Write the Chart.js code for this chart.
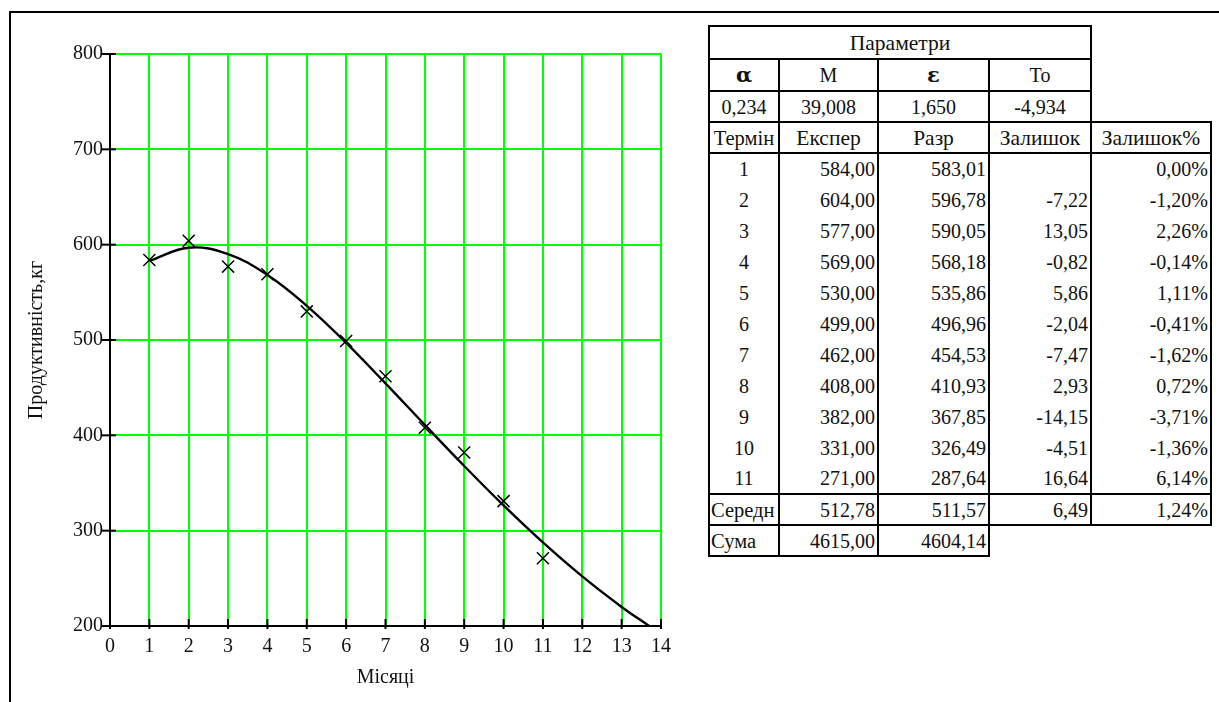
<!DOCTYPE html>
<html>
<head>
<meta charset="utf-8">
<script src="https://cdn.jsdelivr.net/npm/chart.js@4.4.0/dist/chart.umd.min.js"></script>
<style>
  html, body { margin: 0; padding: 0; background: #fff; }
  body { width: 1219px; height: 702px; position: relative; overflow: hidden; font-family: "Liberation Serif", "Times New Roman", serif; }
  #frame { position: absolute; left: 9px; top: 11px; width: 1300px; height: 800px; border-left: 2px solid #000; border-top: 2px solid #000; }
  #wrap { position: absolute; left: 0; top: 0; width: 700px; height: 702px; }
  table { position: absolute; left: 708px; top: 25px; border-collapse: collapse; font-family: "Liberation Serif", "Times New Roman", serif; font-size: 20px; color: #111; table-layout: fixed; width: 502px; }
  td { padding: 0 2px; height: 31px; line-height: 20px; white-space: nowrap; overflow: hidden; box-sizing: border-box; }
  td.b { border: 2px solid #000; }
  td.v { border-left: 2px solid #000; border-right: 2px solid #000; }
  .c { text-align: center; }
  .r { text-align: right; }
  .l { text-align: left; }
  .t { font-size: 21.5px; }
  .f { padding: 0 1px; font-size: 20.5px; }
  .sym { font-family: "DejaVu Serif", serif; font-weight: bold; font-size: 21px; }
  tr.h0 td { height: 33px; }
  tr.h1 td { height: 32px; }
  tr.dt td { height: 31px; }
</style>
</head>
<body>
<div id="frame"></div>
<div id="wrap"><canvas id="c" width="700" height="702"></canvas></div>
<table id="tbl">
  <colgroup><col style="width:70px"><col style="width:99px"><col style="width:111px"><col style="width:102px"><col style="width:120px"></colgroup>
  <tbody id="tb"></tbody>
</table>
<script>
// ---- data ----
const months = [1, 2, 3, 4, 5, 6, 7, 8, 9, 10, 11];
const experimental = [584, 604, 577, 569, 530, 499, 462, 408, 382, 331, 271];
const fittedX = [1, 2, 3, 4, 5, 6, 7, 8, 9, 10, 11, 12, 13, 13.7];
const fittedY = [583.01, 596.78, 590.05, 568.18, 535.86, 496.96, 454.53, 410.93, 367.85, 326.49, 287.64, 252, 220, 200];
const xTicks = [0, 1, 2, 3, 4, 5, 6, 7, 8, 9, 10, 11, 12, 13, 14];
const yTicks = [200, 300, 400, 500, 600, 700, 800];

const paramNames = ["α", "M", "ε", "To"];
const paramValues = ["0,234", "39,008", "1,650", "-4,934"];
const colHeads = ["Термін", "Експер", "Разр", "Залишок", "Залишок%"];
const tblExper = ["584,00", "604,00", "577,00", "569,00", "530,00", "499,00", "462,00", "408,00", "382,00", "331,00", "271,00"];
const tblRazr = ["583,01", "596,78", "590,05", "568,18", "535,86", "496,96", "454,53", "410,93", "367,85", "326,49", "287,64"];
const tblResid = ["", "-7,22", "13,05", "-0,82", "5,86", "-2,04", "-7,47", "2,93", "-14,15", "-4,51", "16,64"];
const tblResidPct = ["0,00%", "-1,20%", "2,26%", "-0,14%", "1,11%", "-0,41%", "-1,62%", "0,72%", "-3,71%", "-1,36%", "6,14%"];
const meanRow = ["Середн", "512,78", "511,57", "6,49", "1,24%"];
const sumRow = ["Сума", "4615,00", "4604,14"];

// ---- table ----
const tb = document.getElementById('tb');
function row(cls, cells) {
  const tr = document.createElement('tr');
  if (cls) tr.className = cls;
  cells.forEach(c => {
    const td = document.createElement('td');
    td.textContent = c.t;
    td.className = c.k;
    if (c.span) td.colSpan = c.span;
    tr.appendChild(td);
  });
  tb.appendChild(tr);
}
row('h0', [{t: "Параметри", k: "b c t", span: 4}, {t: "", k: ""}]);
row('h1', paramNames.map((n, i) => ({t: n, k: "b c" + ((i === 0 || i === 2) ? " sym" : "")})).concat([{t: "", k: ""}]));
row('', paramValues.map(v => ({t: v, k: "b c"})).concat([{t: "", k: ""}]));
row('', colHeads.map((h, i) => ({t: h, k: "b c " + (i === 0 ? "f" : "t")})));
months.forEach((m, i) => {
  row('dt', [
    {t: String(m), k: "v c"},
    {t: tblExper[i], k: "v r"},
    {t: tblRazr[i], k: "v r"},
    {t: tblResid[i], k: "v r"},
    {t: tblResidPct[i], k: "v r"}
  ]);
});
row('', meanRow.map((v, i) => ({t: v, k: "b " + (i === 0 ? "l f" : "r")})));
row('', sumRow.map((v, i) => ({t: v, k: "b " + (i === 0 ? "l f" : "r")})).concat([{t: "", k: ""}, {t: "", k: ""}]));
const rows = tb.querySelectorAll('tr.dt');
rows[rows.length - 1].querySelectorAll('td').forEach(td => td.style.borderBottom = '2px solid #000');

// ---- chart ----
const tickPlugin = {
  id: 'ticksMarks',
  afterDraw(chart) {
    const ctx = chart.ctx, xs = chart.scales.x, ys = chart.scales.y, a = chart.chartArea;
    ctx.save();
    ctx.strokeStyle = '#000';
    ctx.lineWidth = 2;
    ctx.beginPath();
    ctx.moveTo(a.left, a.top); ctx.lineTo(a.left, a.bottom); ctx.lineTo(a.right + 1, a.bottom);
    ctx.stroke();
    yTicks.forEach(v => {
      const y = ys.getPixelForValue(v);
      ctx.beginPath(); ctx.moveTo(a.left - 8, y); ctx.lineTo(a.left + 6, y); ctx.stroke();
    });
    xTicks.forEach(v => {
      const x = xs.getPixelForValue(v);
      ctx.beginPath(); ctx.moveTo(x, a.bottom - 7); ctx.lineTo(x, a.bottom + 3); ctx.stroke();
    });
    ctx.restore();
  }
};

const font = {family: '"Liberation Serif", "Times New Roman", serif', size: 20};
new Chart(document.getElementById('c'), {
  type: 'scatter',
  data: {
    datasets: [
      {
        label: 'Разр',
        data: fittedX.map((x, i) => ({x, y: fittedY[i]})),
        showLine: true,
        borderColor: '#000',
        borderWidth: 2.4,
        pointRadius: 0,
        tension: 0.4,
        fill: false
      },
      {
        label: 'Експер',
        data: months.map((x, i) => ({x, y: experimental[i]})),
        showLine: false,
        pointStyle: 'crossRot',
        pointRadius: 8.5,
        borderColor: '#000',
        borderWidth: 1.5
      }
    ]
  },
  plugins: [tickPlugin],
  options: {
    responsive: false,
    animation: false,
    events: [],
    layout: {padding: {top: 54, right: 39, left: 0, bottom: 0}},
    plugins: {legend: {display: false}, tooltip: {enabled: false}},
    scales: {
      x: {
        type: 'linear', min: 0, max: 14,
        afterBuildTicks: s => { s.ticks = xTicks.map(v => ({value: v})); },
        afterFit: s => { s.height = 76; },
        grid: {color: '#00ff00', lineWidth: 2, drawTicks: false},
        border: {display: false},
        ticks: {color: '#111', font, padding: 9, maxRotation: 0, autoSkip: false},
        title: {display: true, text: 'Місяці', color: '#111', font, padding: {top: 4, bottom: 12}}
      },
      y: {
        type: 'linear', min: 200, max: 800,
        afterBuildTicks: s => { s.ticks = yTicks.map(v => ({value: v})); },
        afterFit: s => { s.width = 110; },
        grid: {color: '#00ff00', lineWidth: 2, drawTicks: false},
        border: {display: false},
        ticks: {color: '#111', font, padding: 7},
        title: {display: true, text: 'Продуктивність,кг', color: '#111', font, padding: {top: 25, bottom: 0}}
      }
    }
  }
});
</script>
</body>
</html>
